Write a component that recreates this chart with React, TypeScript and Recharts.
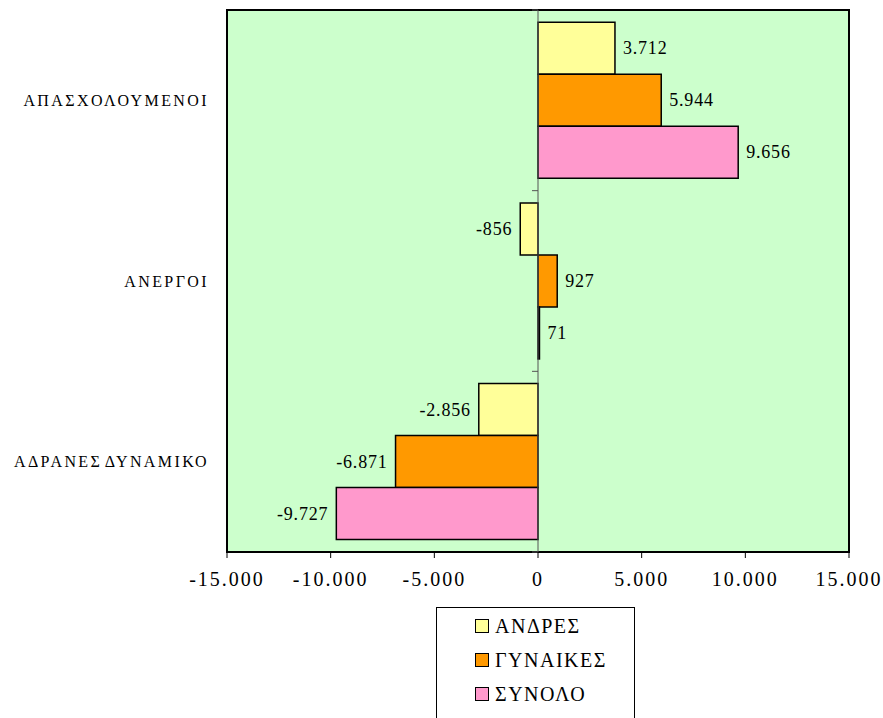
import { BarChart, Bar, XAxis, YAxis, ReferenceLine, ReferenceArea, LabelList, CartesianGrid } from 'recharts';

const categories = ['ΑΠΑΣΧΟΛΟΥΜΕΝΟΙ', 'ΑΝΕΡΓΟΙ', 'ΑΔΡΑΝΕΣ ΔΥΝΑΜΙΚΟ'];
const andres = [3712, -856, -2856];
const gynaikes = [5944, 927, -6871];
const synolo = [9656, 71, -9727];
const xTicks = [-15000, -10000, -5000, 0, 5000, 10000, 15000];

const series = [
  { key: 'andres', name: 'ΑΝΔΡΕΣ', color: '#FFFF99', values: andres },
  { key: 'gynaikes', name: 'ΓΥΝΑΙΚΕΣ', color: '#FF9900', values: gynaikes },
  { key: 'synolo', name: 'ΣΥΝΟΛΟ', color: '#FF99CC', values: synolo },
];

const data = categories.map((category, i) => {
  const row: Record<string, string | number> = { category };
  series.forEach((s) => { row[s.key] = s.values[i]; });
  return row;
});

const FONT = '"Liberation Serif", "Times New Roman", serif';

// greek style thousands separator
const fmt = (v: number) => {
  const s = Math.abs(v).toString().replace(/\B(?=(\d{3})+(?!\d))/g, '.');
  return v < 0 ? '-' + s : s;
};

const renderValue = (props: any) => {
  const x = Number(props.x), y = Number(props.y);
  const w = Number(props.width), h = Number(props.height);
  const v = Number(props.value);
  const left = Math.min(x, x + w);
  const right = Math.max(x, x + w);
  const neg = v < 0;
  return (
    <text
      x={neg ? left - 8 : right + 8}
      y={y + h / 2}
      textAnchor={neg ? 'end' : 'start'}
      dominantBaseline="central"
      fontFamily={FONT}
      fontSize={18}
      letterSpacing={0.8}
      fill="#000"
    >
      {fmt(v)}
    </text>
  );
};

const zeroAxis = (p: any) => {
  const { x1, y1, x2, y2 } = p;
  const n = categories.length;
  const marks = [];
  for (let i = 0; i <= n; i++) {
    const y = y1 + ((y2 - y1) * i) / n;
    marks.push(<line key={i} x1={x1 - 6} x2={x1} y1={y} y2={y} stroke="#555" strokeWidth={1} />);
  }
  return (
    <g>
      <line x1={x1} y1={y1} x2={x2} y2={y2} stroke="#555" strokeWidth={1} />
      {marks}
    </g>
  );
};

export default function App() {
  return (
    <div style={{ position: 'relative', width: 883, height: 718, overflow: 'hidden', background: '#fff' }}>
      <style>{'body{margin:0;overflow:hidden}'}</style>
      <BarChart
        width={883}
        height={718}
        data={data}
        layout="vertical"
        margin={{ top: 10, right: 34, left: 0, bottom: 126 }}
        barCategoryGap="6.8%"
        barGap={0}
      >
        <CartesianGrid horizontal={false} vertical={false} fill="#CCFFCC" fillOpacity={1} />
        <XAxis
          type="number"
          domain={[-15000, 15000]}
          ticks={xTicks}
          tickFormatter={fmt}
          axisLine={false}
          tickSize={6}
          tickMargin={14}
          height={40}
          tickLine={{ stroke: '#000', strokeWidth: 1 }}
          tick={{ fontFamily: FONT, fontSize: 20, fill: '#000', letterSpacing: 2 } as any}
          interval={0}
        />
        <YAxis
          type="category"
          dataKey="category"
          width={227}
          axisLine={false}
          tickLine={false}
          tickSize={0}
          tickMargin={18}
          tick={{ fontFamily: FONT, fontSize: 16, fill: '#000', letterSpacing: 2.4, wordSpacing: -3 } as any}
        />
        {series.map((s) => (
          <Bar key={s.key} dataKey={s.key} name={s.name} fill={s.color} stroke="#000" strokeWidth={1.5} isAnimationActive={false}>
            <LabelList dataKey={s.key} content={renderValue} />
          </Bar>
        ))}
        <ReferenceLine x={0} shape={zeroAxis} />
        <ReferenceArea x1={-15000} x2={15000} fill="none" stroke="#000" strokeWidth={2} />
      </BarChart>
      <div
        style={{
          position: 'absolute',
          left: 436,
          top: 607,
          width: 197,
          height: 140,
          border: '1px solid #000',
          background: '#fff',
          fontFamily: FONT,
          fontSize: 20,
          letterSpacing: 1.5,
        }}
      >
        {series.map((s, i) => (
          <div
            key={s.key}
            style={{ position: 'absolute', left: 38, top: 6 + i * 34, height: 24, display: 'flex', alignItems: 'center' }}
          >
            <span
              style={{ display: 'inline-block', width: 12, height: 12, background: s.color, border: '1.5px solid #000', marginRight: 6 }}
            />
            <span>{s.name}</span>
          </div>
        ))}
      </div>
    </div>
  );
}
